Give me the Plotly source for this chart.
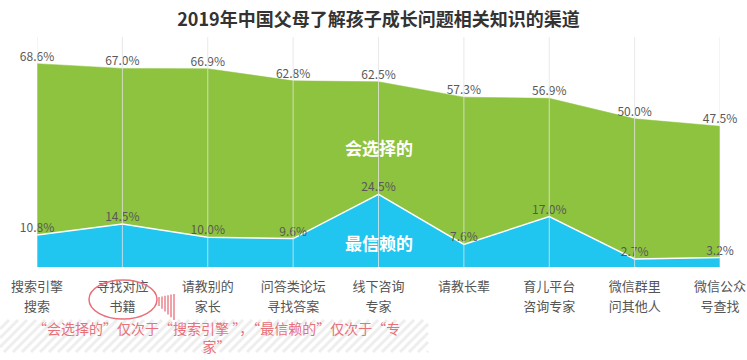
import plotly.graph_objects as go

categories = ["搜索引擎<br>搜索", "寻找对应<br>书籍", "请教别的<br>家长", "问答类论坛<br>寻找答案",
              "线下咨询<br>专家", "请教长辈", "育儿平台<br>咨询专家", "微信群里<br>问其他人", "微信公众<br>号查找"]
choose_vals = [68.6, 67.0, 66.9, 62.8, 62.5, 57.3, 56.9, 50.0, 47.5]
trust_vals = [10.8, 14.5, 10.0, 9.6, 24.5, 7.6, 17.0, 2.7, 3.2]

W, H = 747, 360
ML, MR, MT, MB = 37, 27, 37, 93
PW, PH = W - ML - MR, H - MT - MB
FONT = "Noto Sans CJK SC"
GREEN = "#8DC33E"
BLUE = "#20C6F0"
RED = "#E8707A"

def px(x):
    return (x - ML) / PW

def py(y):
    return (H - MB - y) / PH

xs = list(range(len(categories)))
line1 = [c.split("<br>")[0] for c in categories]
line2 = [c.split("<br>")[1] if "<br>" in c else "" for c in categories]

fig = go.Figure()
fig.add_trace(go.Scatter(
    x=xs, y=choose_vals, mode="lines+text", fill="tozeroy",
    fillcolor=GREEN, line=dict(color=GREEN, width=0.5),
    text=[f"{v:.1f}%" for v in choose_vals], textposition="top center",
    textfont=dict(family=FONT, size=12, color="#595959"),
    cliponaxis=False, hoverinfo="skip", showlegend=False))
fig.add_trace(go.Scatter(
    x=xs, y=trust_vals, mode="lines+text", fill="tozeroy",
    fillcolor=BLUE, line=dict(color="white", width=1.5),
    text=[f"{v:.1f}%" for v in trust_vals], textposition="top center",
    textfont=dict(family=FONT, size=12, color="#595959"),
    cliponaxis=False, hoverinfo="skip", showlegend=False))
fig.add_trace(go.Scatter(x=xs, y=[0] * len(xs), xaxis="x2", yaxis="y", mode="markers",
                         marker=dict(opacity=0), hoverinfo="skip", showlegend=False))

shapes = []
for i in xs:
    shapes.append(dict(type="line", xref="x", yref="paper", x0=i, x1=i, y0=0, y1=1,
                       line=dict(color="rgba(228,228,228,0.8)", width=1), layer="above"))

hx0, hx1, hy0, hy1 = 0, 428, 320, 352
step = 9
h = hy1 - hy0
x = hx0 - h
while x < hx1:
    xa, ya, xb, yb = x, hy1, x + h, hy0
    if xa < hx0:
        ya = hy1 - (hx0 - xa)
        xa = hx0
    if xb > hx1:
        yb = hy0 + (xb - hx1)
        xb = hx1
    if xb > xa:
        shapes.append(dict(type="line", xref="paper", yref="paper",
                           x0=px(xa), y0=py(ya), x1=px(xb), y1=py(yb),
                           line=dict(color="#EEEEEE", width=3), layer="below"))
    x += step

shapes.append(dict(type="circle", xref="paper", yref="paper",
                   x0=px(89), x1=px(157), y0=py(319), y1=py(280),
                   line=dict(color=RED, width=1.5)))
for k in range(6):
    xx = 159 + k * 3
    shapes.append(dict(type="line", xref="paper", yref="paper",
                       x0=px(xx), x1=px(xx), y0=py(297 - k * 0.6), y1=py(306 + k * 2.8),
                       line=dict(color=RED, width=1.3)))

annotations = [
    dict(x=4, y=40.2, xref="x", yref="y", text="<b>会选择的</b>", showarrow=False,
         font=dict(family=FONT, size=17, color="white")),
    dict(x=4, y=8.1, xref="x", yref="y", text="<b>最信赖的</b>", showarrow=False,
         font=dict(family=FONT, size=17, color="white")),
    dict(x=px(216), y=py(337), xref="paper", yref="paper",
         text="“会选择的”仅次于“搜索引擎 ”，“最信赖的”仅次于“专<br>家”",
         showarrow=False, align="center", xanchor="center", yanchor="middle",
         font=dict(family=FONT, size=14, color=RED)),
]

tickfont = dict(family=FONT, size=13, color="#555555")
fig.update_layout(
    width=W, height=H,
    margin=dict(l=ML, r=MR, t=MT, b=MB, autoexpand=False),
    paper_bgcolor="white", plot_bgcolor="white",
    title=dict(text="<b>2019年中国父母了解孩子成长问题相关知识的渠道</b>",
               x=0.5, xref="paper", y=1 - 20 / H, yanchor="middle",
               font=dict(family=FONT, size=18, color="#333333")),
    xaxis=dict(range=[0, len(categories) - 1], tickvals=xs, ticktext=line1,
               showgrid=False, zeroline=False, showline=False, ticks="",
               ticklabelstandoff=10, automargin=False, tickfont=tickfont),
    xaxis2=dict(range=[0, len(categories) - 1], tickvals=xs, ticktext=line2,
                overlaying="x", anchor="y", side="bottom",
                showgrid=False, zeroline=False, showline=False, ticks="",
                ticklabelstandoff=30, automargin=False, tickfont=tickfont),
    yaxis=dict(range=[0, 77.6], visible=False, automargin=False),
    shapes=shapes, annotations=annotations,
)

fig.write_html("out.html", config={"displayModeBar": False},
               post_script="document.body.style.margin='0';")
